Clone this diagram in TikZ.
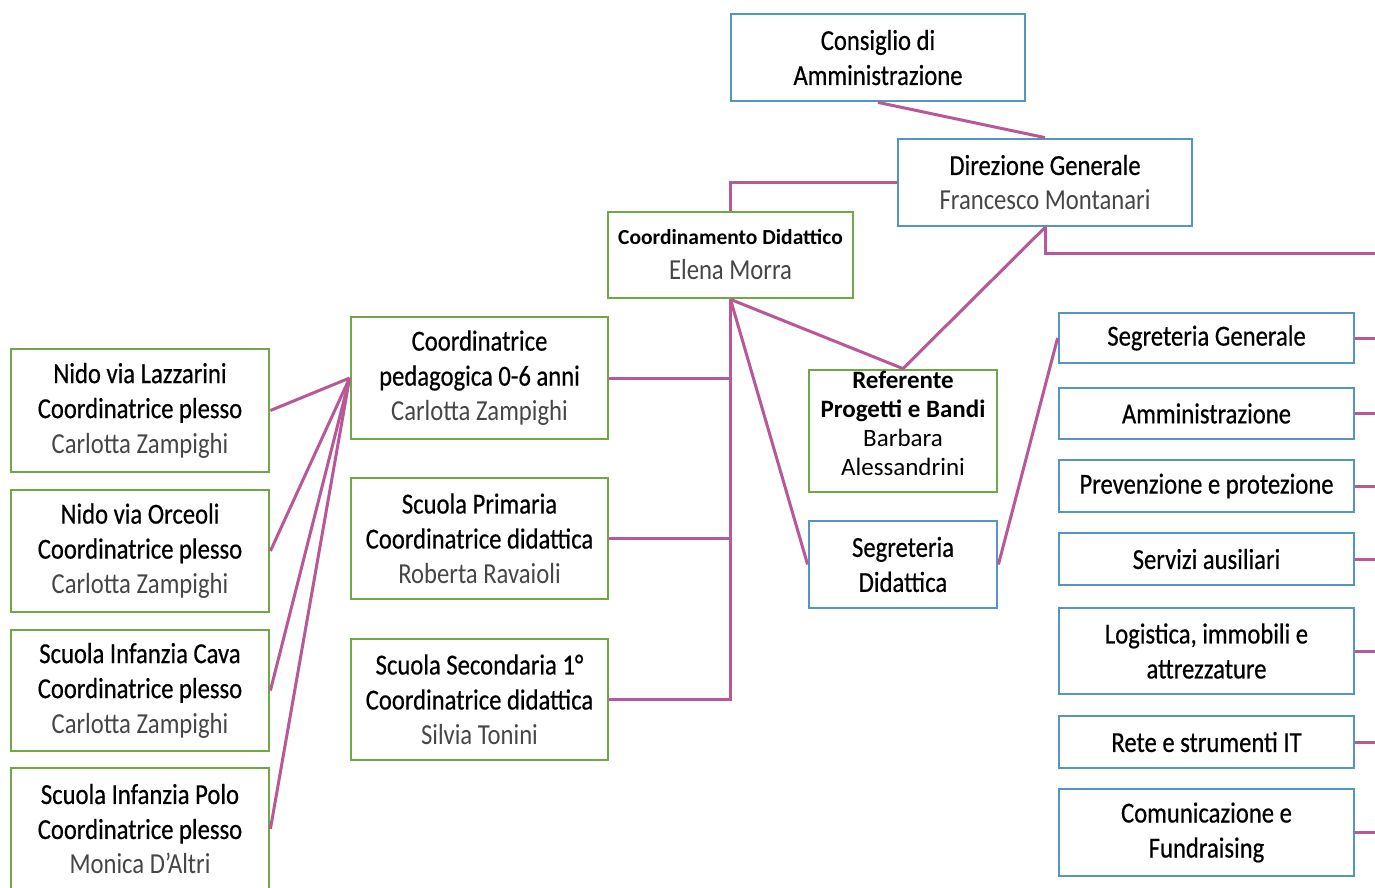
\documentclass[tikz,border=0pt]{standalone}
\usepackage{fontspec}
\setmainfont{Carlito}[FakeStretch=0.85]
\newfontfamily\hvy{Carlito}[FakeStretch=0.85, FakeBold=0.5]
\newfontfamily\lite{Carlito}[FakeStretch=0.85]
\newfontfamily\reff{Carlito}
\definecolor{bboxc}{RGB}{84,150,192}
\definecolor{gboxc}{RGB}{112,168,72}
\definecolor{linkc}{RGB}{184,88,150}
\definecolor{nmc}{RGB}{70,70,70}
\newcommand{\nm}[1]{{\lite\color{nmc}#1}}
\begin{document}
\begin{tikzpicture}[x=1pt,y=-1pt,
  box/.style={draw, line width=2.8pt, fill=white, inner sep=0pt, align=center,
    font=\hvy\fontsize{29}{35}\selectfont},
  bluebox/.style={box, draw=bboxc},
  greenbox/.style={box, draw=gboxc},
  conn/.style={draw=linkc, line width=3pt}
]
\clip (0,0) rectangle (1375,887);
\fill[white] (0,0) rectangle (1375,887);
\coordinate (rim) at (1375,0);
% top
\node[bluebox, minimum width=294pt, minimum height=87pt] (cda) at (878,57.5) {Consiglio di\\Amministrazione};
\node[bluebox, minimum width=294pt, minimum height=87pt] (dg) at (1045,182.5) {Direzione Generale\\\nm{Francesco Montanari}};
\node[greenbox, minimum width=245pt, minimum height=86pt] (cdid) at (730.5,255) {{\reff\bfseries\fontsize{21.5}{39}\selectfont Coordinamento Didattico}\\\nm{Elena Morra}};
% middle column
\node[greenbox, minimum width=257pt, minimum height=122pt] (cped) at (479.5,378) {Coordinatrice\\pedagogica 0-6 anni\\\nm{Carlotta Zampighi}};
\node[greenbox, minimum width=257pt, minimum height=121pt] (prim) at (479.5,538.5) {Scuola Primaria\\Coordinatrice didattica\\\nm{Roberta Ravaioli}};
\node[greenbox, minimum width=257pt, minimum height=121pt] (sec) at (479.5,699.5) {Scuola Secondaria 1°\\Coordinatrice didattica\\\nm{Silvia Tonini}};
% left column
\node[greenbox, minimum width=258pt, minimum height=123pt] (lazz) at (140,410.5) {Nido via Lazzarini\\Coordinatrice plesso\\\nm{Carlotta Zampighi}};
\node[greenbox, minimum width=258pt, minimum height=122pt] (orc) at (140,551) {Nido via Orceoli\\Coordinatrice plesso\\\nm{Carlotta Zampighi}};
\node[greenbox, minimum width=258pt, minimum height=121pt] (cava) at (140,690.5) {Scuola Infanzia Cava\\Coordinatrice plesso\\\nm{Carlotta Zampighi}};
\node[greenbox, minimum width=258pt, minimum height=122pt] (polo) at (140,829) {Scuola Infanzia Polo\\Coordinatrice plesso\\\nm{Monica D’Altri}};
% referente, segreteria didattica
\node[greenbox, minimum width=188pt, minimum height=122pt, font=\reff\fontsize{25}{29}\selectfont] (ref) at (903,431) {\textbf{Referente}\\\textbf{Progetti e Bandi}\\Barbara\\Alessandrini\\[-14pt]};
\node[bluebox, minimum width=188pt, minimum height=87pt] (segd) at (903,564.5) {Segreteria\\Didattica};
% right column
\node[bluebox, minimum width=295pt, minimum height=50pt] (sg) at (1206.5,338) {Segreteria Generale};
\node[bluebox, minimum width=295pt, minimum height=51pt] (amm) at (1206.5,413.5) {Amministrazione};
\node[bluebox, minimum width=295pt, minimum height=52pt] (prev) at (1206.5,486) {Prevenzione e protezione};
\node[bluebox, minimum width=295pt, minimum height=52pt] (serv) at (1206.5,559) {Servizi ausiliari};
\node[bluebox, minimum width=295pt, minimum height=86pt] (log) at (1206.5,651) {Logistica, immobili e\\attrezzature};
\node[bluebox, minimum width=295pt, minimum height=52pt] (rete) at (1206.5,742) {Rete e strumenti IT};
\node[bluebox, minimum width=295pt, minimum height=87pt] (com) at (1206.5,832.5) {Comunicazione e\\Fundraising};
% connectors
\coordinate (redge) at (1375,253);
\draw[conn] (cda.south) -- (dg.north);
\draw[conn] (dg.west) -| (cdid.north);
\draw[conn] (dg.south) |- (redge);
\draw[conn] (dg.south) -- (ref.north);
\draw[conn] (cdid.south) -- (ref.north);
\draw[conn] (cdid.south) -- (segd.west);
\draw[conn] (cdid.south) -- (cdid.south |- sec.east) -- (sec.east);
\draw[conn] (cped.east) -- (cped.east -| cdid.south);
\draw[conn] (prim.east) -- (prim.east -| cdid.south);
\draw[conn] (cped.west) -- (lazz.east);
\draw[conn] (cped.west) -- (orc.east);
\draw[conn] (cped.west) -- (cava.east);
\draw[conn] (cped.west) -- (polo.east);
\draw[conn] (segd.east) -- (sg.west);
\foreach \n in {sg,amm,prev,serv,log,rete,com}{
  \draw[conn] (\n.east) -- (\n.east -| rim);
}
\end{tikzpicture}
\end{document}
